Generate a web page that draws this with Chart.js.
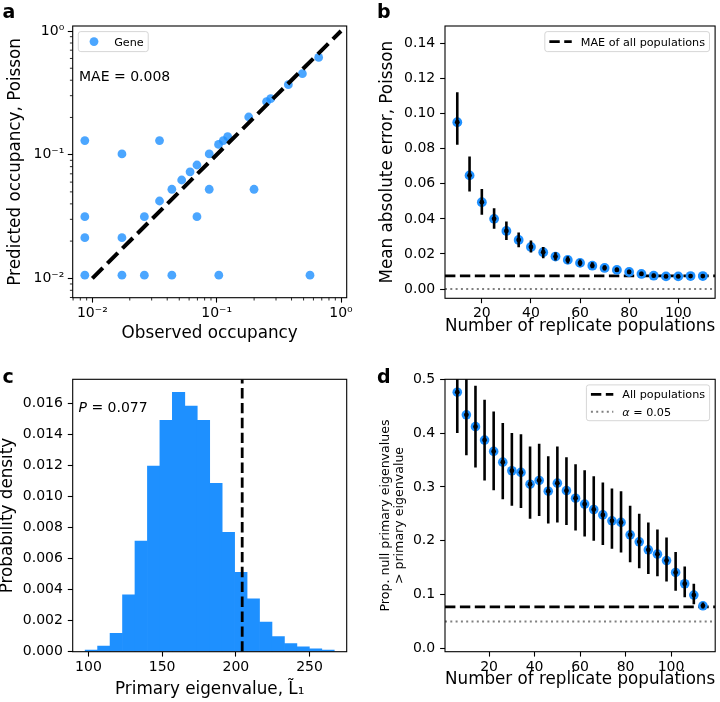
<!DOCTYPE html>
<html>
<head>
<meta charset="utf-8">
<title>Occupancy and eigenvalue panels</title>
<script src="https://cdn.jsdelivr.net/npm/chart.js@4.4.1/dist/chart.umd.min.js"></script>
<style>
  html, body { margin:0; padding:0; background:#fff; }
  body { width:720px; height:702px; position:relative; overflow:hidden; }
  canvas { position:absolute; display:block; }
</style>
</head>
<body>
<canvas id="panelA" width="360" height="345" style="left:0;top:0"></canvas>
<canvas id="panelB" width="360" height="345" style="left:360px;top:0"></canvas>
<canvas id="panelC" width="360" height="357" style="left:0;top:345px"></canvas>
<canvas id="panelD" width="360" height="357" style="left:360px;top:345px"></canvas>
<script>
// ---------------- Panel a: observed vs predicted occupancy ----------------
const observedOccupancy = [0.0087, 0.0173, 0.0347, 0.0087, 0.0087, 0.0087, 0.0173, 0.0173, 0.0262, 0.0262,
  0.0347, 0.0436, 0.0436, 0.0523, 0.0611, 0.0694, 0.0694, 0.0871, 0.0871, 0.1035, 0.1040,
  0.1130, 0.1226, 0.1997, 0.1810, 0.2520, 0.2718, 0.3770, 0.4890, 0.5630, 0.6610];
const predictedOccupancy = [0.1300, 0.1013, 0.1300, 0.0315, 0.0213, 0.0106, 0.0213, 0.0106, 0.0315, 0.0106,
  0.0422, 0.0106, 0.0525, 0.0624, 0.0727, 0.0825, 0.0315, 0.1013, 0.0525, 0.1210, 0.0106,
  0.1300, 0.1400, 0.0525, 0.2017, 0.2680, 0.2836, 0.3680, 0.4520, 0.0106, 0.6120];
const identityLine = [0.01, 1];
const maeText = 'MAE = 0.008';
const logTickValues = [0.01, 0.1, 1];
const logTickLabels = ['10\u207B\u00B2', '10\u207B\u00B9', '10\u2070'];
const logMinorTicks = [0.007, 0.008, 0.009, 0.02, 0.03, 0.04, 0.05, 0.06, 0.07, 0.08, 0.09,
  0.2, 0.3, 0.4, 0.5, 0.6, 0.7, 0.8, 0.9];

// ---------------- Panel b: MAE vs number of replicate populations ----------------
const replicatesB = [10, 15, 20, 25, 30, 35, 40, 45, 50, 55, 60, 65, 70, 75, 80, 85, 90, 95, 100, 105, 110];
const maeMean = [0.0951, 0.0648, 0.0495, 0.0400, 0.0331, 0.0280, 0.0240, 0.0210, 0.0185, 0.0166, 0.0149,
  0.0133, 0.0120, 0.0109, 0.0097, 0.0086, 0.0076, 0.0072, 0.0072, 0.0074, 0.0074];
const maeLow = [0.0823, 0.0556, 0.0423, 0.0343, 0.0280, 0.0238, 0.0208, 0.0175, 0.0162, 0.0145, 0.0130,
  0.0118, 0.0106, 0.0097, 0.0086, 0.0076, 0.0067, 0.0064, 0.0065, 0.0067, 0.0068];
const maeHigh = [0.1122, 0.0756, 0.0571, 0.0461, 0.0385, 0.0322, 0.0276, 0.0240, 0.0210, 0.0187, 0.0168,
  0.0152, 0.0136, 0.0123, 0.0110, 0.0098, 0.0087, 0.0081, 0.0080, 0.0081, 0.0080];
const maeAllPopulations = 0.0075;
const bXTicks = [20, 40, 60, 80, 100];
const bXLabels = ['20', '40', '60', '80', '100'];
const bYTicks = [0, 0.02, 0.04, 0.06, 0.08, 0.10, 0.12, 0.14];
const bYLabels = ['0.00', '0.02', '0.04', '0.06', '0.08', '0.10', '0.12', '0.14'];
const bLegendLabel = 'MAE of all populations';

// ---------------- Panel c: null distribution of primary eigenvalue ----------------
const binCenters = [101.98, 110.43, 118.88, 127.33, 135.78, 144.23, 152.68, 161.13, 169.58, 178.03,
  186.48, 194.93, 203.38, 211.83, 220.28, 228.73, 237.18, 245.63, 254.08, 262.53];
const binDensity = [0.00010, 0.00037, 0.00118, 0.00367, 0.00713, 0.01196, 0.01491, 0.01671, 0.01583, 0.01491,
  0.01085, 0.00769, 0.00511, 0.00341, 0.00191, 0.00097, 0.00052, 0.00032, 0.00019, 0.00010];
const observedEigenvalue = 204.3;
const pValueText = ' = 0.077';
const cXTicks = [100, 150, 200, 250];
const cXLabels = ['100', '150', '200', '250'];
const cYTicks = [0, 0.002, 0.004, 0.006, 0.008, 0.010, 0.012, 0.014, 0.016];
const cYLabels = ['0.000', '0.002', '0.004', '0.006', '0.008', '0.010', '0.012', '0.014', '0.016'];

// ---------------- Panel d: proportion of null eigenvalues > observed ----------------
const replicatesD = [6, 10, 14, 18, 22, 26, 30, 34, 38, 42, 46, 50, 54, 58, 62, 66, 70, 74, 78, 82,
  86, 90, 94, 98, 102, 106, 110, 114];
const propMean = [0.476, 0.434, 0.412, 0.387, 0.366, 0.346, 0.330, 0.327, 0.305, 0.312, 0.292, 0.307, 0.293, 0.279,
  0.268, 0.258, 0.248, 0.237, 0.234, 0.211, 0.198, 0.183, 0.175, 0.163, 0.141, 0.120, 0.099, 0.079];
const propLow = [0.400, 0.359, 0.336, 0.312, 0.294, 0.277, 0.265, 0.261, 0.241, 0.246, 0.232, 0.234, 0.229, 0.219,
  0.208, 0.200, 0.192, 0.185, 0.178, 0.160, 0.149, 0.138, 0.134, 0.124, 0.107, 0.095, 0.082, 0.074];
const propHigh = [0.552, 0.509, 0.488, 0.462, 0.440, 0.419, 0.400, 0.398, 0.375, 0.380, 0.357, 0.375, 0.355, 0.342,
  0.331, 0.320, 0.308, 0.297, 0.292, 0.265, 0.250, 0.234, 0.221, 0.206, 0.179, 0.152, 0.120, 0.085];
const propAllPopulations = 0.077;
const alphaLevel = 0.05;
const dXTicks = [20, 40, 60, 80, 100];
const dXLabels = ['20', '40', '60', '80', '100'];
const dYTicks = [0, 0.1, 0.2, 0.3, 0.4, 0.5];
const dYLabels = ['0.0', '0.1', '0.2', '0.3', '0.4', '0.5'];
const dLegendLabels = ['All populations', ' = 0.05'];

// ---------------- styling ----------------
const FAMILY = '"DejaVu Sans", sans-serif';
Chart.defaults.font.family = FAMILY;
Chart.defaults.color = '#000';
const BLUE = '#1E90FF';
const BLUE_A = 'rgba(30,144,255,0.8)';
const DASH_LW = 2.8;
const DASH = [10.4, 4.5];
const DOT_LW = 2;
const DOT = [2, 3.3];

function makeAxis(o) {
  return {
    type: o.type || 'linear',
    min: o.min, max: o.max,
    bounds: 'data',
    offset: false,
    afterBuildTicks: s => { s.ticks = o.ticks.map(v => ({ value: v })); },
    afterFit: s => { if (o.horizontal) s.height = o.size; else s.width = o.size; },
    grid: { display: true, drawOnChartArea: false, drawTicks: true, tickLength: 4.9, tickWidth: 1.1, tickColor: '#000', offset: false },
    border: { display: false },
    ticks: { font: { size: 14 }, color: '#000', padding: o.tickPad, autoSkip: false, maxRotation: 0, minRotation: 0,
      callback: (v, i) => o.labels[i] },
    title: { display: true, text: o.title, color: '#000', font: o.titleFont || { size: 16.8 },
      padding: o.horizontal ? { top: 0, bottom: o.titlePad } : { top: o.titlePad, bottom: 0 } }
  };
}

function baseOptions(padding, x, y) {
  return {
    responsive: false, animation: false, events: [], devicePixelRatio: 1,
    layout: { padding },
    plugins: { legend: { display: false }, tooltip: { enabled: false } },
    scales: { x, y }
  };
}

function legendFrame(ctx, x, y, w, h) {
  ctx.save();
  ctx.beginPath();
  ctx.roundRect(x, y, w, h, 2.5);
  ctx.fillStyle = 'rgba(255,255,255,0.8)';
  ctx.fill();
  ctx.lineWidth = 1;
  ctx.strokeStyle = 'rgba(204,204,204,0.8)';
  ctx.stroke();
  ctx.restore();
}

function hLine(ctx, x0, x1, y, lw, dash, color) {
  ctx.save();
  ctx.beginPath();
  ctx.setLineDash(dash);
  ctx.lineWidth = lw;
  ctx.strokeStyle = color;
  ctx.moveTo(x0, y); ctx.lineTo(x1, y);
  ctx.stroke();
  ctx.restore();
}

function deco(label, lx, ly, extra) {
  return {
    id: 'deco',
    afterDraw(chart) {
      const { ctx, chartArea: a } = chart;
      ctx.save();
      ctx.lineWidth = 1.1;
      ctx.strokeStyle = '#000';
      ctx.setLineDash([]);
      ctx.strokeRect(a.left, a.top, a.right - a.left, a.bottom - a.top);
      ctx.fillStyle = '#000';
      ctx.textAlign = 'left';
      ctx.textBaseline = 'alphabetic';
      if (extra) extra(chart, ctx, a);
      ctx.font = 'bold 19px ' + FAMILY;
      ctx.fillStyle = '#000';
      ctx.fillText(label, lx, ly);
      ctx.restore();
    }
  };
}

// ---------------- Panel a ----------------
new Chart(document.getElementById('panelA'), {
  type: 'scatter',
  data: {
    datasets: [
      { type: 'line', data: identityLine.map(v => ({ x: v, y: v })), borderColor: '#000', borderWidth: 4,
        borderDash: [14.8, 6.4], pointRadius: 0, showLine: true, fill: false, tension: 0, order: 0 },
      { type: 'scatter', label: 'Gene', data: observedOccupancy.map((v, i) => ({ x: v, y: predictedOccupancy[i] })),
        backgroundColor: BLUE_A, borderWidth: 0, pointRadius: 4.4, order: 1 }
    ]
  },
  options: baseOptions({ left: 0, top: 26, right: 13.3, bottom: 0 },
    makeAxis({ type: 'logarithmic', min: 0.00695, max: 1.111, ticks: logTickValues, labels: logTickLabels,
      title: 'Observed occupancy', titlePad: 1.2, size: 47.3, horizontal: true, tickPad: 2.1 }),
    makeAxis({ type: 'logarithmic', min: 0.00697, max: 1.098, ticks: logTickValues, labels: logTickLabels,
      title: 'Predicted occupancy, Poisson', titlePad: 5.7, size: 72.7, horizontal: false, tickPad: 3.5 })),
  plugins: [deco('a', 2.5, 18, (chart, ctx, a) => {
    const xs = chart.scales.x, ys = chart.scales.y;
    ctx.save();
    ctx.lineWidth = 0.84;
    ctx.strokeStyle = '#000';
    ctx.beginPath();
    logMinorTicks.forEach(v => {
      if (v >= xs.min && v <= xs.max) { const px = xs.getPixelForValue(v); ctx.moveTo(px, a.bottom); ctx.lineTo(px, a.bottom + 2.8); }
      if (v >= ys.min && v <= ys.max) { const py = ys.getPixelForValue(v); ctx.moveTo(a.left, py); ctx.lineTo(a.left - 2.8, py); }
    });
    ctx.stroke();
    ctx.restore();
    // legend
    ctx.font = '11.2px ' + FAMILY;
    const tw = ctx.measureText('Gene').width;
    const bx = a.left + 5.6, by = a.top + 5.6;
    legendFrame(ctx, bx, by, 4.5 + 22.4 + 9 + tw + 4.5, 20);
    ctx.beginPath();
    ctx.arc(bx + 4.5 + 11.2, by + 10, 4.4, 0, Math.PI * 2);
    ctx.fillStyle = BLUE_A;
    ctx.fill();
    ctx.fillStyle = '#000';
    ctx.fillText('Gene', bx + 4.5 + 22.4 + 9, by + 14);
    ctx.font = '14px ' + FAMILY;
    ctx.fillText(maeText, 79, 80.5);
  })]
});

// ---------------- Panel b ----------------
new Chart(document.getElementById('panelB'), {
  type: 'scatter',
  data: {
    datasets: [
      { type: 'scatter', data: replicatesB.map((x, i) => ({ x, y: maeMean[i] })), backgroundColor: '#000',
        borderWidth: 0, pointRadius: 2.4, order: 0 },
      { type: 'bar', data: replicatesB.map((x, i) => ({ x, y: [maeLow[i], maeHigh[i]] })), backgroundColor: '#000',
        borderWidth: 0, barThickness: 2.6, inflateAmount: 0, clip: 0, order: 1 },
      { type: 'scatter', data: replicatesB.map((x, i) => ({ x, y: maeMean[i] })), backgroundColor: BLUE,
        borderWidth: 0, pointRadius: 4.9, order: 2 },
      { type: 'line', label: bLegendLabel, data: [{ x: 5, y: maeAllPopulations }, { x: 115, y: maeAllPopulations }],
        borderColor: '#000', borderWidth: DASH_LW, borderDash: DASH, pointRadius: 0, showLine: true, fill: false, order: 3 },
      { type: 'line', data: [{ x: 5, y: 0 }, { x: 115, y: 0 }], borderColor: '#808080', borderWidth: DOT_LW,
        borderDash: DOT, pointRadius: 0, showLine: true, fill: false, order: 4 }
    ]
  },
  options: baseOptions({ left: 0, top: 26, right: 1, bottom: 0 },
    makeAxis({ min: 5, max: 115, ticks: bXTicks, labels: bXLabels, title: 'Number of replicate populations',
      titlePad: 8.3, size: 46.7, horizontal: true, tickPad: 2.1 }),
    makeAxis({ min: -0.0053, max: 0.15, ticks: bYTicks, labels: bYLabels, title: 'Mean absolute error, Poisson',
      titlePad: 17.4, size: 85, horizontal: false, tickPad: 4.9 })),
  plugins: [deco('b', 17, 17.5, (chart, ctx, a) => {
    ctx.font = '11.2px ' + FAMILY;
    const tw = ctx.measureText(bLegendLabel).width;
    const w = 4.5 + 22.4 + 9 + tw + 4.5;
    const bx = a.right - 5.6 - w, by = a.top + 5.6;
    legendFrame(ctx, bx, by, w, 20);
    hLine(ctx, bx + 4.5, bx + 4.5 + 22.4, by + 10, DASH_LW, DASH, '#000');
    ctx.fillStyle = '#000';
    ctx.fillText(bLegendLabel, bx + 4.5 + 22.4 + 9, by + 14);
  })]
});

// ---------------- Panel c ----------------
new Chart(document.getElementById('panelC'), {
  type: 'scatter',
  data: {
    datasets: [
      { type: 'line', data: [{ x: observedEigenvalue, y: 0 }, { x: observedEigenvalue, y: 0.01755 }],
        borderColor: '#000', borderWidth: DASH_LW, borderDash: DASH, pointRadius: 0, showLine: true, fill: false, order: 0 },
      { type: 'bar', data: binCenters.map((c, i) => ({ x: c, y: binDensity[i] })), backgroundColor: BLUE,
        borderWidth: 0, barPercentage: 1, categoryPercentage: 1, order: 1 }
    ]
  },
  options: baseOptions({ left: 0, top: 34.3, right: 13.3, bottom: 0 },
    makeAxis({ min: 89.3, max: 275.2, ticks: cXTicks, labels: cXLabels, title: 'Primary eigenvalue, L\u0303\u2081',
      titlePad: 2.5, size: 50.3, horizontal: true, tickPad: 2.1 }),
    makeAxis({ min: 0, max: 0.01755, ticks: cYTicks, labels: cYLabels, title: 'Probability density',
      titlePad: -2.3, size: 72.7, horizontal: false, tickPad: 4.9 })),
  plugins: [deco('c', 2.5, 37.5, (chart, ctx, a) => {
    ctx.fillStyle = '#000';
    ctx.font = 'italic 14px ' + FAMILY;
    ctx.fillText('P', 78.5, 66.7);
    const pw = ctx.measureText('P').width;
    ctx.font = '14px ' + FAMILY;
    ctx.fillText(pValueText, 78.5 + pw, 66.7);
  })]
});

// ---------------- Panel d ----------------
new Chart(document.getElementById('panelD'), {
  type: 'scatter',
  data: {
    datasets: [
      { type: 'scatter', data: replicatesD.map((x, i) => ({ x, y: propMean[i] })), backgroundColor: '#000',
        borderWidth: 0, pointRadius: 2.4, order: 0 },
      { type: 'bar', data: replicatesD.map((x, i) => ({ x, y: [propLow[i], propHigh[i]] })), backgroundColor: '#000',
        borderWidth: 0, barThickness: 2.6, inflateAmount: 0, clip: 0, order: 1 },
      { type: 'scatter', data: replicatesD.map((x, i) => ({ x, y: propMean[i] })), backgroundColor: BLUE,
        borderWidth: 0, pointRadius: 4.8, order: 2 },
      { type: 'line', data: [{ x: 0.6, y: propAllPopulations }, { x: 119.4, y: propAllPopulations }],
        borderColor: '#000', borderWidth: DASH_LW, borderDash: DASH, pointRadius: 0, showLine: true, fill: false, order: 3 },
      { type: 'line', data: [{ x: 0.6, y: alphaLevel }, { x: 119.4, y: alphaLevel }], borderColor: '#808080',
        borderWidth: DOT_LW, borderDash: DOT, pointRadius: 0, showLine: true, fill: false, order: 4 }
    ]
  },
  options: baseOptions({ left: 0, top: 34.3, right: 1.5, bottom: 0 },
    makeAxis({ min: 0.6, max: 119.4, ticks: dXTicks, labels: dXLabels, title: 'Number of replicate populations',
      titlePad: 11.9, size: 50.3, horizontal: true, tickPad: 2.1 }),
    makeAxis({ min: -0.0063, max: 0.5, ticks: dYTicks, labels: dYLabels,
      title: ['Prop. null primary eigenvalues', '> primary eigenvalue'], titleFont: { size: 12.6, lineHeight: 1.15 },
      titlePad: 18.2, size: 85, horizontal: false, tickPad: 4.9 })),
  plugins: [deco('d', 17, 37.5, (chart, ctx, a) => {
    ctx.font = '11.2px ' + FAMILY;
    const tw = ctx.measureText(dLegendLabels[0]).width;
    const w = 4.5 + 22.4 + 9 + tw + 4.5;
    const bx = a.right - 5.6 - w, by = a.top + 5.6;
    legendFrame(ctx, bx, by, w, 35.8);
    const tx = bx + 4.5 + 22.4 + 9;
    hLine(ctx, bx + 4.5, bx + 4.5 + 22.4, by + 9.4, DASH_LW, DASH, '#000');
    hLine(ctx, bx + 4.5, bx + 4.5 + 22.4, by + 26.8, DOT_LW, DOT, '#808080');
    ctx.fillStyle = '#000';
    ctx.fillText(dLegendLabels[0], tx, by + 13.4);
    ctx.font = 'italic 11.2px ' + FAMILY;
    ctx.fillText('\u03B1', tx, by + 30.6);
    const aw = ctx.measureText('\u03B1').width;
    ctx.font = '11.2px ' + FAMILY;
    ctx.fillText(dLegendLabels[1], tx + aw, by + 30.6);
  })]
});
</script>
</body>
</html>
